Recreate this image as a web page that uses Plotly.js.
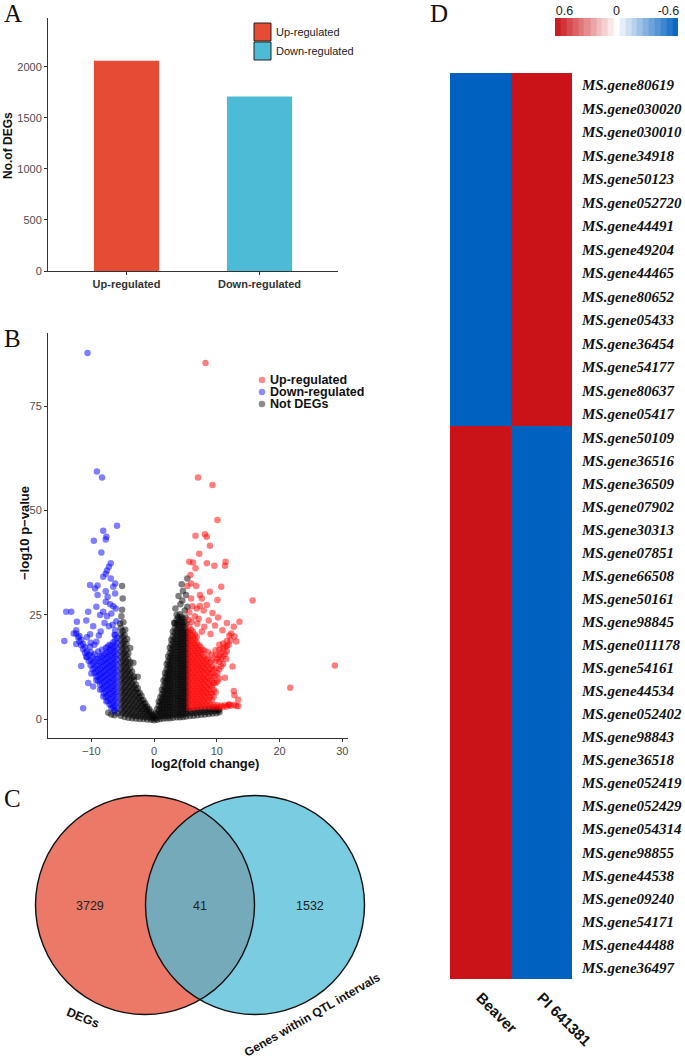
<!DOCTYPE html>
<html><head><meta charset="utf-8">
<script src="https://cdn.plot.ly/plotly-3.0.1.min.js"></script>
<style>html,body{margin:0;padding:0;background:#fff}#chart{width:685px;height:1060px}</style>
</head><body><div id="chart"></div>
<script>
// ---------- Panel A : number of DEGs ----------
const barCategories = ['Up-regulated', 'Down-regulated'];
const barCounts = [2060, 1710];
const barColors = ['#E64B35', '#4DBBD5'];
const barTicks = [0, 500, 1000, 1500, 2000];

// ---------- Panel B : volcano ----------
// dense areas: [x, [y, y, ...]] ; isolated points: [x, y]
const upColumns = [
  [5.6, [2.6, 3.9, 5.2, 6.5, 7.8, 9.1, 10.4, 11.7, 13.0, 14.3, 15.6, 16.9, 18.2, 19.5, 20.8, 22.1]],
  [5.9, [3.2, 4.5, 5.8, 7.1, 8.4, 9.7, 11.0, 12.3, 13.6, 14.9, 16.2, 17.5, 18.8, 20.1, 21.4]],
  [6.2, [2.7, 4.0, 5.3, 6.6, 7.9, 9.2, 10.5, 11.8, 13.1, 14.4, 15.7, 17.0, 18.3, 19.6, 20.9]],
  [6.5, [3.3, 4.6, 5.9, 7.2, 8.5, 9.8, 11.1, 12.4, 13.7, 15.0, 16.3, 17.6, 18.9, 20.2]],
  [6.8, [2.8, 4.1, 5.4, 6.7, 8.0, 9.3, 10.6, 11.9, 13.2, 14.5, 15.8, 17.1, 18.4, 19.7]],
  [7.1, [3.4, 4.7, 6.0, 7.3, 8.6, 9.9, 11.2, 12.5, 13.8, 15.1, 16.4, 17.7]],
  [7.4, [2.9, 4.2, 5.5, 6.8, 8.1, 9.4, 10.7, 12.0, 13.3, 14.6, 15.9, 17.3]],
  [7.7, [3.5, 4.8, 6.1, 7.4, 8.7, 10.0, 11.3, 12.6, 13.9, 15.3, 16.6]],
  [8.0, [3.0, 4.3, 5.6, 6.9, 8.2, 9.5, 10.8, 12.1, 13.4, 14.8, 16.4]],
  [8.3, [3.6, 5.0, 6.3, 7.6, 8.9, 10.2, 11.6, 13.0, 14.2]],
  [8.6, [3.0, 4.4, 5.8, 7.2, 8.6, 10.0, 11.4, 12.8, 14.5, 16.0]],
  [8.9, [3.5, 5.1, 6.5, 8.0, 9.3, 10.8, 12.0, 13.5]],
  [9.2, [2.9, 4.6, 6.1, 7.8, 9.4, 11.0, 12.6, 14.1, 15.4]],
  [9.5, [3.4, 5.4, 7.0, 8.6, 10.2, 11.8]],
  [9.8, [2.8, 6.5, 8.6, 10.4, 12.2, 13.8, 15.3, 16.5]],
  [10.1, [3.3, 9.0, 11.0, 14.5]],
  [10.4, [2.8, 9.7, 11.9, 13.7, 15.2, 16.6, 17.8]],
  [10.7, [3.2, 12.6, 14.4, 15.9]],
  [11.0, [2.9, 13.2, 15.0, 16.9, 18.1]],
  [11.3, [3.3, 15.6, 17.2]],
  [11.6, [3.0, 16.2, 17.5, 18.7]],
  [11.9, [3.4, 17.8]],
  [12.2, [3.2, 18.9]],
  [12.8, [3.4, 5.7, 19.8]],
  [13.4, [3.1, 4.6]]
];
const upPoints = [[8.2,85.3],[7.0,57.9],[9.3,56.1],[10.1,47.7],[6.6,43.9],[8.1,44.3],[8.4,43.7],[8.9,41.5],[7.2,39.6],[5.6,37.7],[6.2,37.5],[8.4,37.3],[9.6,36.7],[11.4,37.7],[11.3,36.7],[6.6,36.1],[5.8,34.5],[5.9,32.5],[5.3,31.9],[6.7,31.9],[10.7,31.7],[8.9,30.5],[7.3,29.7],[7.6,28.9],[5.9,28.9],[10.1,28.5],[15.7,28.4],[8.4,27.3],[7.3,27.1],[6.1,27.0],[6.8,26.5],[7.9,26.0],[9.3,25.4],[5.6,25.6],[6.5,24.6],[7.1,24.0],[8.7,23.6],[10.2,24.3],[11.6,23.0],[9.7,22.4],[8.0,22.1],[6.9,22.8],[10.9,21.3],[7.6,20.9],[9.0,20.4],[12.0,20.0],[13.6,23.3],[12.7,22.1],[12.3,20.5],[13.1,18.6],[11.5,14.4],[12.5,12.6],[11.3,9.9],[12.7,6.7],[13.1,3.1],[12.0,3.5],[21.7,7.5],[28.8,12.8],[5.5,23.8],[6.0,23.3]];

const downColumns = [
  [-5.9, [2.6, 3.9, 5.2, 6.5, 7.8, 9.1, 10.4, 11.7, 13.0, 14.3, 15.6, 16.9, 18.2, 19.5]],
  [-6.2, [3.2, 4.5, 5.8, 7.1, 8.4, 9.7, 11.0, 12.3, 13.6, 14.9, 16.2, 17.5, 18.8, 20.1]],
  [-6.5, [2.8, 4.1, 5.4, 6.7, 8.0, 9.3, 10.6, 11.9, 13.2, 14.5, 15.8, 17.1, 18.4]],
  [-6.8, [3.4, 4.7, 6.0, 7.3, 8.6, 9.9, 11.2, 12.5, 13.8, 15.1, 16.4, 17.7]],
  [-7.1, [3.5, 4.8, 6.1, 7.4, 8.7, 10.0, 11.3, 12.6, 13.9, 15.2, 16.5, 17.8]],
  [-7.4, [4.4, 5.7, 7.0, 8.3, 9.6, 10.9, 12.2, 13.5, 14.8, 16.1, 17.3]],
  [-7.7, [5.3, 6.6, 7.9, 9.2, 10.5, 11.8, 13.1, 14.4, 15.7, 17.0]],
  [-8.0, [6.2, 7.5, 8.8, 10.1, 11.4, 12.7, 14.0, 15.4]],
  [-8.3, [7.2, 8.5, 9.8, 11.1, 12.4, 13.7, 15.0, 16.6]],
  [-8.6, [8.2, 9.5, 10.8, 12.1, 13.6, 15.1]],
  [-8.9, [9.1, 10.4, 11.7, 13.0, 14.5, 16.2]],
  [-9.2, [10.1, 11.4, 12.8, 14.3]],
  [-9.5, [11.0, 12.3, 13.8, 15.5, 17.8]],
  [-9.8, [12.0, 13.4, 15.0]],
  [-10.1, [12.9, 14.2, 16.0, 18.3]],
  [-10.4, [13.9, 15.4]],
  [-10.7, [14.8, 16.1, 19.6]],
  [-11.0, [15.8, 17.2]],
  [-11.3, [16.7, 18.0]],
  [-11.6, [17.7, 19.0]],
  [-11.9, [18.6, 19.9]],
  [-12.1, [19.6]],
  [-12.4, [20.5, 21.3]]
];
const downPoints = [[-10.6,87.7],[-9.1,59.3],[-8.3,57.9],[-5.9,46.3],[-8.1,45.1],[-7.6,43.7],[-7.7,43.0],[-9.6,42.7],[-8.4,39.9],[-6.9,37.3],[-7.2,36.5],[-7.5,35.6],[-7.7,34.8],[-8.1,34.1],[-6.9,33.7],[-6.2,32.5],[-10.2,32.1],[-9.0,32.0],[-9.4,31.3],[-6.5,31.7],[-7.7,30.6],[-6.2,30.1],[-9.0,29.7],[-7.4,29.3],[-7.7,28.1],[-7.0,27.5],[-9.2,26.9],[-6.5,27.0],[-6.1,26.5],[-8.1,25.7],[-10.5,25.7],[-14.0,25.7],[-13.2,25.7],[-6.8,25.3],[-8.6,24.9],[-7.5,24.6],[-10.8,23.6],[-9.7,22.2],[-12.3,23.3],[-8.5,21.0],[-7.2,22.2],[-6.2,21.3],[-10.2,20.3],[-12.8,20.5],[-14.3,18.7],[-12.4,18.0],[-9.2,18.5],[-10.2,17.3],[-10.8,14.9],[-11.6,12.7],[-10.0,10.9],[-10.5,8.6],[-9.7,7.8],[-9.2,9.3],[-8.6,7.0],[-8.1,5.4],[-7.6,4.2],[-6.8,2.6],[-6.3,1.8],[-11.3,2.6],[-6.0,23.4],[-6.6,22.6],[-7.9,23.0],[-8.8,20.0],[-6.3,20.2]];

const nsColumns = [
  [-5.3, [0.8, 2.2, 3.6, 5.0, 6.4, 7.8, 9.2, 10.6, 12.0, 13.4, 14.8, 16.2, 17.6, 19.0, 20.4, 21.8]],
  [-5.0, [1.5, 2.9, 4.3, 5.7, 7.1, 8.5, 9.9, 11.3, 12.7, 14.1, 15.5, 16.9, 18.3, 19.7, 21.1]],
  [-4.7, [0.5, 1.9, 3.3, 4.7, 6.1, 7.5, 8.9, 10.3, 11.7, 13.1, 14.5, 15.9, 17.3, 18.7, 20.1]],
  [-4.4, [1.2, 2.6, 4.0, 5.4, 6.8, 8.2, 9.6, 11.0, 12.4, 13.8, 15.2, 16.6, 18.0]],
  [-4.1, [0.3, 1.7, 3.1, 4.5, 5.9, 7.3, 8.7, 10.1, 11.5, 12.9, 14.3, 15.7]],
  [-3.8, [1.0, 2.4, 3.8, 5.2, 6.6, 8.0, 9.4, 10.8, 12.2, 13.6]],
  [-3.5, [0.2, 1.5, 2.9, 4.3, 5.7, 7.1, 8.5, 9.9, 11.3]],
  [-3.2, [0.8, 2.2, 3.6, 5.0, 6.4, 7.8, 9.2, 10.2]],
  [-2.9, [0.1, 1.4, 2.8, 4.2, 5.6, 7.0, 8.2]],
  [-2.6, [0.7, 2.1, 3.5, 4.9, 6.3, 7.4]],
  [-2.3, [0.0, 1.3, 2.6, 3.9, 5.2, 6.3]],
  [-2.0, [0.6, 1.9, 3.2, 4.5, 5.6]],
  [-1.7, [0.0, 1.2, 2.4, 3.6, 4.5]],
  [-1.4, [0.5, 1.7, 2.9, 3.8]],
  [-1.1, [-0.1, 1.1, 2.2, 3.0]],
  [-0.8, [0.4, 1.5, 2.4]],
  [-0.5, [-0.2, 0.9, 1.8]],
  [-0.25, [0.2, 1.1]],
  [0.0, [-0.3, 0.6]],
  [0.25, [0.1, 1.3]],
  [0.5, [-0.2, 1.1, 2.4]],
  [0.75, [0.6, 1.9, 3.2, 4.2]],
  [1.0, [0.0, 1.3, 2.6, 3.9, 5.2]],
  [1.25, [0.7, 2.0, 3.3, 4.6, 5.9, 7.0]],
  [1.5, [0.1, 1.4, 2.7, 4.0, 5.3, 6.6, 7.9, 9.2]],
  [1.75, [0.8, 2.1, 3.4, 4.7, 6.0, 7.3, 8.6, 9.9, 11.0]],
  [2.0, [0.2, 1.5, 2.8, 4.1, 5.4, 6.7, 8.0, 9.3, 10.6, 11.9, 13.2]],
  [2.25, [0.8, 2.1, 3.4, 4.7, 6.0, 7.3, 8.6, 9.9, 11.2, 12.5, 13.8, 15.0]],
  [2.5, [0.2, 1.5, 2.8, 4.1, 5.4, 6.7, 8.0, 9.3, 10.6, 11.9, 13.2, 14.5, 15.8, 17.1]],
  [2.75, [0.9, 2.2, 3.5, 4.8, 6.1, 7.4, 8.7, 10.0, 11.3, 12.6, 13.9, 15.2, 16.5, 17.8, 19.0]],
  [3.0, [0.3, 1.6, 2.9, 4.2, 5.5, 6.8, 8.1, 9.4, 10.7, 12.0, 13.3, 14.6, 15.9, 17.2, 18.5, 19.8, 21.0]],
  [3.3, [1.0, 2.3, 3.6, 4.9, 6.2, 7.5, 8.8, 10.1, 11.4, 12.7, 14.0, 15.3, 16.6, 17.9, 19.2, 20.5, 21.8, 23.0]],
  [3.6, [0.4, 1.7, 3.0, 4.3, 5.6, 6.9, 8.2, 9.5, 10.8, 12.1, 13.4, 14.7, 16.0, 17.3, 18.6, 19.9, 21.2, 22.5, 23.8, 25.0]],
  [3.85, [1.0, 2.3, 3.6, 4.9, 6.2, 7.5, 8.8, 10.1, 11.4, 12.7, 14.0, 15.3, 16.6, 17.9, 19.2, 20.5, 21.8, 23.1, 24.4]],
  [4.1, [0.4, 1.7, 3.0, 4.3, 5.6, 6.9, 8.2, 9.5, 10.8, 12.1, 13.4, 14.7, 16.0, 17.3, 18.6, 19.9, 21.2, 22.5, 23.8, 25.1]],
  [4.35, [1.1, 2.4, 3.7, 5.0, 6.3, 7.6, 8.9, 10.2, 11.5, 12.8, 14.1, 15.4, 16.7, 18.0, 19.3, 20.6, 21.9, 23.2, 24.5]],
  [4.6, [0.5, 1.8, 3.1, 4.4, 5.7, 7.0, 8.3, 9.6, 10.9, 12.2, 13.5, 14.8, 16.1, 17.4, 18.7, 20.0, 21.3, 22.6, 24.0]],
  [4.85, [1.2, 2.5, 3.8, 5.1, 6.4, 7.7, 9.0, 10.3, 11.6, 12.9, 14.2, 15.5, 16.8, 18.1, 19.4, 20.7, 22.0, 23.3]],
  [5.1, [0.6, 1.9, 3.2, 4.5, 5.8, 7.1, 8.4, 9.7, 11.0, 12.3, 13.6, 14.9, 16.2, 17.5, 18.8, 20.1, 21.4, 22.8]],
  [5.35, [1.3, 2.6, 3.9, 5.2, 6.5, 7.8, 9.1, 10.4, 11.7, 13.0, 14.3, 15.6, 16.9, 18.2, 19.5, 20.8]],
  [5.7, [0.7, 2.0]], [6.0, [1.4]], [6.3, [0.8, 2.1]], [6.6, [1.5]], [6.9, [0.9, 2.2]], [7.2, [1.6]],
  [7.5, [1.0, 2.3]], [7.8, [1.7]], [8.1, [1.1, 2.3]], [8.4, [1.7]], [8.7, [1.2, 2.4]], [9.0, [1.8]],
  [9.3, [1.3, 2.4]], [9.6, [1.9]], [9.9, [1.4, 2.4]], [10.2, [2.0]], [10.4, [1.6, 2.3]],
  [-5.8, [1.4]], [-6.3, [0.9, 2.1]], [-6.8, [1.1]], [-7.3, [1.5]]
];
const nsPoints = [[-5.1,31.9],[-5.0,28.9],[-5.1,26.2],[-5.2,24.6],[-4.9,23.2],[-5.4,22.9],[-4.6,21.4],[-4.3,19.2],[-3.8,17.0],[-3.3,13.5],[-2.6,10.1],[5.3,33.7],[4.6,30.7],[5.1,29.7],[4.5,28.4],[5.3,26.9],[4.9,26.0],[4.2,27.5],[3.9,29.5],[4.4,32.3],[5.0,24.3],[3.4,26.5],[3.2,23.0]];

const volcanoNames = ['Up-regulated', 'Down-regulated', 'Not DEGs'];
const volcanoColors = ['#FF0000', '#0000FF', '#000000'];
const volcanoXTicks = [-10, 0, 10, 20, 30];
const volcanoYTicks = [0, 25, 50, 75];

// ---------- Panel C : Venn ----------
const vennSetNames = ['DEGs', 'Genes within QTL intervals'];
const vennCounts = [3729, 41, 1532]; // DEGs only, both, QTL only
const vennColors = ['#E64B35', '#4DBBD5'];

// ---------- Panel D : heatmap ----------
const geneNames = ['MS.gene80619','MS.gene030020','MS.gene030010','MS.gene34918','MS.gene50123','MS.gene052720','MS.gene44491','MS.gene49204','MS.gene44465','MS.gene80652','MS.gene05433','MS.gene36454','MS.gene54177','MS.gene80637','MS.gene05417',
  'MS.gene50109','MS.gene36516','MS.gene36509','MS.gene07902','MS.gene30313','MS.gene07851','MS.gene66508','MS.gene50161','MS.gene98845','MS.gene011178','MS.gene54161','MS.gene44534','MS.gene052402','MS.gene98843','MS.gene36518','MS.gene052419','MS.gene052429','MS.gene054314','MS.gene98855','MS.gene44538','MS.gene09240','MS.gene54171','MS.gene44488','MS.gene36497'];
const sampleNames = ['Beaver', 'PI 641381'];
const zBeaver = [-0.71,-0.71,-0.71,-0.71,-0.71,-0.71,-0.71,-0.71,-0.71,-0.71,-0.71,-0.71,-0.71,-0.71,-0.71,
  0.71,0.71,0.71,0.71,0.71,0.71,0.71,0.71,0.71,0.71,0.71,0.71,0.71,0.71,0.71,0.71,0.71,0.71,0.71,0.71,0.71,0.71,0.71,0.71];
const zPI = [0.71,0.71,0.71,0.71,0.71,0.71,0.71,0.71,0.71,0.71,0.71,0.71,0.71,0.71,0.71,
  -0.71,-0.71,-0.71,-0.71,-0.71,-0.71,-0.71,-0.71,-0.71,-0.71,-0.71,-0.71,-0.71,-0.71,-0.71,-0.71,-0.71,-0.71,-0.71,-0.71,-0.71,-0.71,-0.71,-0.71];
const upperBlockSize = 15;
const legendSteps = [0.68,0.61,0.54,0.47,0.41,0.34,0.27,0.20,0.14,0.07,0,-0.07,-0.14,-0.20,-0.27,-0.34,-0.41,-0.47,-0.54,-0.61,-0.68];
const legendTicks = [0.6, 0, -0.6];
const legendTickText = ['0.6', '0', '-0.6'];
const heatColorscale = [[0, '#0061C0'], [0.5, '#FFFFFF'], [1, '#C91318']];

// ---------- helpers ----------
const W = 685, H = 1060;
const px = v => v / W;
const py = v => 1 - v / H;
const SANS = 'Liberation Sans, Arial, sans-serif';
const SERIF = 'Liberation Serif, Times New Roman, serif';

function expand(cols, pts) {
  const xs = [], ys = [];
  cols.forEach(([x, yl]) => yl.forEach(y => { xs.push(x); ys.push(y); }));
  pts.forEach(([x, y]) => { xs.push(x); ys.push(y); });
  return { xs, ys };
}

const traces = [];

// Panel A bars
traces.push({
  type: 'bar', x: barCategories, y: barCounts, width: 0.49,
  marker: { color: barColors, line: { width: 0 } },
  xaxis: 'x', yaxis: 'y', hoverinfo: 'none'
});

// Panel B volcano
const volcanoSets = [expand(nsColumns, nsPoints), expand(downColumns, downPoints), expand(upColumns, upPoints)];
const volcanoOrder = [2, 1, 0];
volcanoSets.forEach((s, i) => {
  const k = volcanoOrder[i];
  traces.push({
    type: 'scatter', mode: 'markers', x: s.xs, y: s.ys, name: volcanoNames[k],
    marker: { color: volcanoColors[k], size: 6.5, opacity: 0.5, line: { width: 0 } },
    xaxis: 'x2', yaxis: 'y2', hoverinfo: 'none'
  });
});

// Panel D heatmap (two blocks)
function heatRows(from, to) {
  const z = [];
  for (let i = from; i < to; i++) z.push([zBeaver[i], zPI[i]]);
  return z;
}
traces.push({
  type: 'heatmap', x: sampleNames, y: geneNames.slice(0, upperBlockSize),
  z: heatRows(0, upperBlockSize), colorscale: heatColorscale, zmin: -0.71, zmax: 0.71,
  showscale: false, xaxis: 'x3', yaxis: 'y3', hoverinfo: 'none'
});
traces.push({
  type: 'heatmap', x: sampleNames, y: geneNames.slice(upperBlockSize),
  z: heatRows(upperBlockSize, geneNames.length), colorscale: heatColorscale, zmin: -0.71, zmax: 0.71,
  showscale: false, xaxis: 'x4', yaxis: 'y4', hoverinfo: 'none'
});
// colour key
traces.push({
  type: 'heatmap', x: legendSteps, y: ['key'], z: [legendSteps],
  colorscale: heatColorscale, zmin: -0.71, zmax: 0.71, showscale: false,
  xaxis: 'x5', yaxis: 'y5', hoverinfo: 'none'
});

// ---------- axes ----------
const axisLine = { showline: true, linecolor: '#333', linewidth: 1, ticks: 'outside', ticklen: 3, tickcolor: '#333', tickwidth: 1, showgrid: false, zeroline: false, fixedrange: true };
const hidden = { visible: false, showgrid: false, zeroline: false, fixedrange: true };

const layout = {
  width: W, height: H, margin: { l: 0, r: 0, t: 0, b: 0 },
  paper_bgcolor: '#fff', plot_bgcolor: 'rgba(0,0,0,0)', showlegend: false,
  font: { family: SANS, color: '#222' },
  xaxis: Object.assign({}, axisLine, {
    domain: [px(48), px(338)], anchor: 'y', type: 'category', range: [-0.59, 1.59],
    tickfont: { family: SANS, size: 11, color: '#333', weight: 'bold' }
  }),
  yaxis: Object.assign({}, axisLine, {
    domain: [py(271), py(18)], anchor: 'x', range: [0, 2480], tickvals: barTicks,
    tickfont: { family: SANS, size: 11, color: '#4D4D4D' }
  }),
  xaxis2: Object.assign({}, axisLine, {
    domain: [px(48), px(348)], anchor: 'y2', range: [-16.9, 30.9], tickvals: volcanoXTicks,
    tickfont: { family: SANS, size: 11, color: '#4D4D4D' }
  }),
  yaxis2: Object.assign({}, axisLine, {
    domain: [py(738), py(333)], anchor: 'x2', range: [-4.55, 92.5], tickvals: volcanoYTicks,
    tickfont: { family: SANS, size: 11, color: '#4D4D4D' }
  }),
  xaxis3: { domain: [px(450), px(572)], anchor: 'y3', showticklabels: false, ticks: '', showgrid: false, zeroline: false, showline: false, fixedrange: true },
  yaxis3: { domain: [py(426), py(73)], anchor: 'x3', side: 'right', type: 'category', autorange: 'reversed',
    ticks: '', showgrid: false, zeroline: false, showline: false, fixedrange: true, ticklabelstandoff: 9,
    tickfont: { family: SERIF, size: 15, color: '#111', weight: 'bold', style: 'italic' } },
  xaxis4: { domain: [px(450), px(572)], anchor: 'y4', ticks: '', showgrid: false, zeroline: false, showline: false, fixedrange: true,
    tickangle: 45, ticklabelstandoff: 6,
    tickfont: { family: SANS, size: 15, color: '#111', weight: 'bold' } },
  yaxis4: { domain: [py(979), py(426)], anchor: 'x4', side: 'right', type: 'category', autorange: 'reversed',
    ticks: '', showgrid: false, zeroline: false, showline: false, fixedrange: true, ticklabelstandoff: 9,
    tickfont: { family: SERIF, size: 15, color: '#111', weight: 'bold', style: 'italic' } },
  xaxis5: { domain: [px(555), px(678)], anchor: 'y5', side: 'top', range: [0.71, -0.71],
    tickvals: legendTicks, ticktext: legendTickText, ticks: '', showgrid: false, zeroline: false, showline: false, fixedrange: true,
    tickfont: { family: SANS, size: 12.5, color: '#222' } },
  yaxis5: Object.assign({}, hidden, { domain: [py(36), py(18)], anchor: 'x5' }),
  xaxis6: Object.assign({}, hidden, { domain: [0, px(440)], anchor: 'y6', range: [0, 440] }),
  yaxis6: Object.assign({}, hidden, { domain: [0, 1 - 780 / H], anchor: 'x6', range: [1060, 780] }),
  shapes: [], annotations: []
};

function note(o) {
  layout.annotations.push(Object.assign({ xref: 'paper', yref: 'paper', xanchor: 'center', yanchor: 'middle', showarrow: false }, o));
}

// ---------- Venn ----------
const vennR = 109.5, vennCx = [145, 255], vennCy = 905;
vennCx.forEach((cx, i) => layout.shapes.push({
  type: 'circle', xref: 'x6', yref: 'y6', x0: cx - vennR, x1: cx + vennR, y0: vennCy - vennR, y1: vennCy + vennR,
  fillcolor: vennColors[i], opacity: 0.75, line: { width: 0 }
}));
vennCx.forEach(cx => layout.shapes.push({
  type: 'circle', xref: 'x6', yref: 'y6', x0: cx - vennR, x1: cx + vennR, y0: vennCy - vennR, y1: vennCy + vennR,
  fillcolor: 'rgba(0,0,0,0)', line: { width: 1.4, color: '#111' }
}));
const vennTextX = [vennCx[0] - vennR / 2, (vennCx[0] + vennCx[1]) / 2, vennCx[1] + vennR / 2];
vennCounts.forEach((n, i) => note({
  xref: 'x6', yref: 'y6', x: vennTextX[i], y: vennCy + 1, text: String(n),
  font: { family: SANS, size: 12.5, color: '#222' }
}));
note({ xref: 'x6', yref: 'y6', x: 83, y: 1018, text: vennSetNames[0], textangle: 22,
  font: { family: SANS, size: 12.5, color: '#111', weight: 'bold' } });
note({ xref: 'x6', yref: 'y6', x: 312, y: 1015, text: vennSetNames[1], textangle: -30,
  font: { family: SANS, size: 12, color: '#111', weight: 'bold' } });

// ---------- Panel A legend ----------
const legA = [[23, 41], [42, 60]];
barCategories.forEach((c, i) => {
  layout.shapes.push({ type: 'rect', xref: 'paper', yref: 'paper', x0: px(254), x1: px(271), y0: py(legA[i][1]), y1: py(legA[i][0]),
    fillcolor: barColors[i], line: { color: '#222', width: 1 } });
  note({ x: px(274), y: py((legA[i][0] + legA[i][1]) / 2), xanchor: 'left',
    text: c, font: { family: SANS, size: 11, color: '#222' } });
});

// ---------- Panel B legend ----------
const legBY = [380, 392, 404];
volcanoNames.forEach((n, i) => {
  layout.shapes.push({ type: 'circle', xref: 'paper', yref: 'paper', xsizemode: 'pixel', ysizemode: 'pixel',
    xanchor: px(262), yanchor: py(legBY[i]), x0: -3.3, x1: 3.3, y0: -3.3, y1: 3.3,
    fillcolor: volcanoColors[i], opacity: 0.45, line: { width: 0 } });
  note({ x: px(269), y: py(legBY[i]), xanchor: 'left', borderpad: 0,
    text: n, font: { family: SANS, size: 12.5, color: '#111', weight: 'bold' } });
});

// ---------- axis titles ----------
note({ x: px(8), y: py(146), text: 'No.of DEGs', textangle: -90,
  font: { family: SANS, size: 12, color: '#111', weight: 'bold' } });
note({ x: px(24), y: py(533), text: '\u2212log10 p\u2212value', textangle: -90,
  font: { family: SANS, size: 13, color: '#111', weight: 'bold' } });
note({ x: px(205), y: py(763), text: 'log2(fold change)',
  font: { family: SANS, size: 13, color: '#111', weight: 'bold' } });

// ---------- panel letters ----------
[['A', 3, 13], ['B', 3, 338], ['C', 3, 798], ['D', 429, 13]].forEach(([t, x, y]) => note({
  x: px(x), y: py(y), xanchor: 'left', text: t, borderpad: 0,
  font: { family: SERIF, size: 25, color: '#111' }
}));

Plotly.newPlot('chart', traces, layout, { staticPlot: true, displayModeBar: false });
</script>
</body></html>
